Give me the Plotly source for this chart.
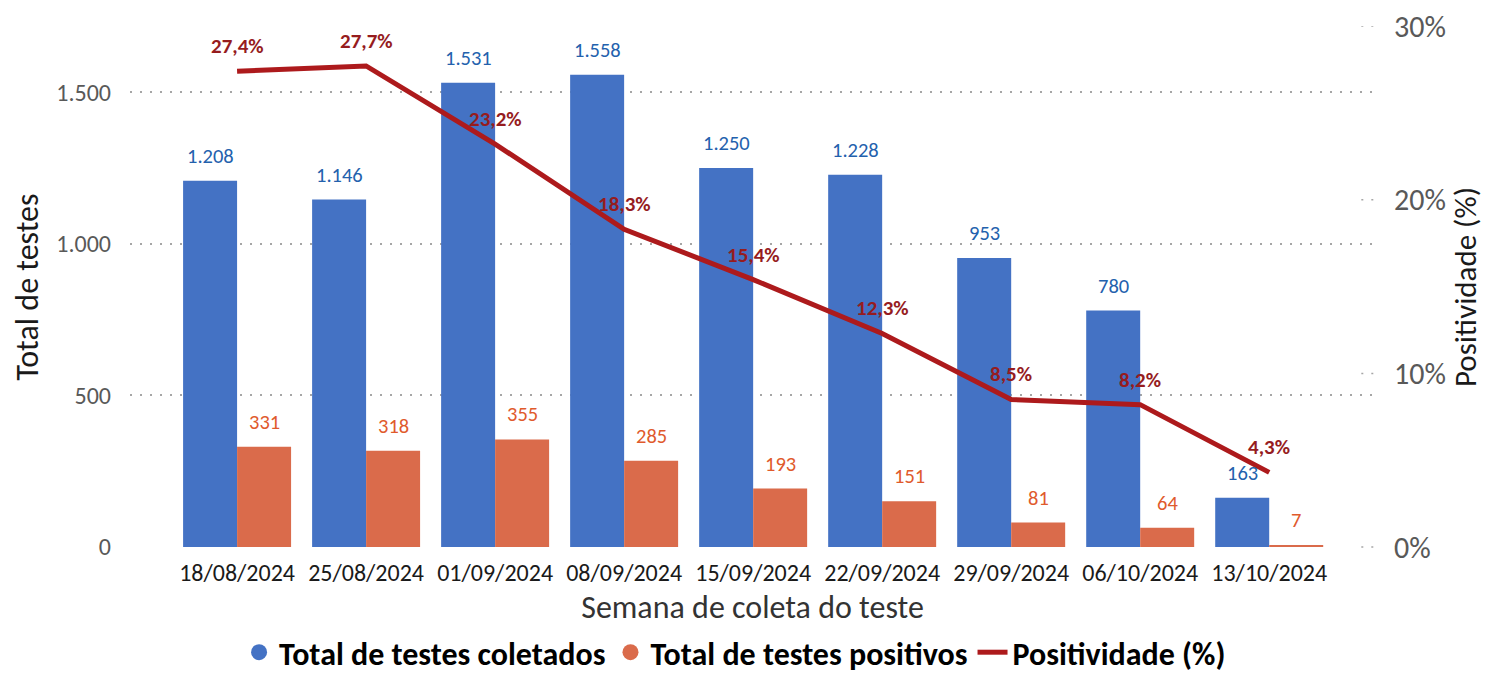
import plotly.graph_objects as go

# dados
semanas = ["18/08/2024", "25/08/2024", "01/09/2024", "08/09/2024", "15/09/2024",
           "22/09/2024", "29/09/2024", "06/10/2024", "13/10/2024"]
total_coletados = [1208, 1146, 1531, 1558, 1250, 1228, 953, 780, 163]
total_positivos = [331, 318, 355, 285, 193, 151, 81, 64, 7]
positividade = [27.4, 27.7, 23.2, 18.3, 15.4, 12.3, 8.5, 8.2, 4.3]
ticks_total = [0, 500, 1000, 1500]
ticks_pct = [0, 0.1, 0.2, 0.3]

AZUL = "#4472C4"
LARANJA = "#DA6B4B"
VERMELHO = "#AD1A1C"
FONTE = "Carlito, Lato, sans-serif"

Y_MAX = 1718.4
Y_MIN = -3
P_MAX = 0.30
P_MIN = Y_MIN / Y_MAX * P_MAX  # mantém o 0% alinhado com o 0


def fmt_milhar(v):
    return f"{v:,}".replace(",", ".")


def fmt_pct(p):
    return f"{p:.1f}%".replace(".", ",")


fig = go.Figure()

fig.add_trace(go.Bar(x=semanas, y=total_coletados, name="Total de testes coletados",
                     marker_color=AZUL, marker_line_width=0, showlegend=False))
fig.add_trace(go.Bar(x=semanas, y=total_positivos, name="Total de testes positivos",
                     marker_color=LARANJA, marker_line_width=0, showlegend=False))
fig.add_trace(go.Scatter(x=semanas, y=[p / 100 for p in positividade], yaxis="y2",
                         mode="lines", line=dict(color=VERMELHO, width=5),
                         showlegend=False))

# itens da legenda (círculos como no Excel)
fig.add_trace(go.Scatter(x=[None], y=[None], mode="markers", name="Total de testes coletados",
                         marker=dict(symbol="circle", size=20, color=AZUL)))
fig.add_trace(go.Scatter(x=[None], y=[None], mode="markers", name="Total de testes positivos",
                         marker=dict(symbol="circle", size=20, color=LARANJA)))
fig.add_trace(go.Scatter(x=[None], y=[None], mode="lines", name="Positividade (%)",
                         line=dict(color=VERMELHO, width=5)))

# rótulos de dados
anot = []
for i, v in enumerate(total_coletados):
    anot.append(dict(x=i, y=v, xref="x", yref="y", text=fmt_milhar(v), showarrow=False,
                     xshift=-27, yshift=25, font=dict(size=20.5, color="#2361AD", family=FONTE)))
for i, v in enumerate(total_positivos):
    anot.append(dict(x=i, y=v, xref="x", yref="y", text=str(v), showarrow=False,
                     xshift=27, yshift=25, font=dict(size=20.5, color="#E05A2C", family=FONTE)))
for i, p in enumerate(positividade):
    anot.append(dict(x=i, y=p / 100, xref="x", yref="y2", text=f"<b>{fmt_pct(p)}</b>",
                     showarrow=False, yshift=25,
                     font=dict(size=21, color="#961C1E", family=FONTE)))

# pontinhos curtos do eixo secundário
formas = []
for t in ticks_pct:
    formas.append(dict(type="line", xref="paper", yref="y2", x0=0.989, x1=1.0, y0=t, y1=t,
                       line=dict(color="#A6A6A6", width=1.5, dash="2px,8px")))

# a página html desloca o gráfico 8px (margem do body), por isso 1489x667
fig.update_layout(
    width=1489, height=667,
    margin=dict(l=122, r=122, t=18, b=127, autoexpand=False),
    paper_bgcolor="white", plot_bgcolor="white",
    separators=",.",
    font=dict(family=FONTE, color="#595959"),
    barmode="group", bargap=0.163, bargroupgap=0,
    annotations=anot,
    shapes=formas,
    xaxis=dict(
        type="category", range=[-0.83, 8.82], automargin=False,
        showgrid=False, showline=False, ticks="",
        tickfont=dict(size=24, color="#1A1A1A"), ticklabelstandoff=8,
        title=dict(text="Semana de coleta do teste", font=dict(size=32, color="#333333"),
                   standoff=9),
    ),
    yaxis=dict(
        range=[Y_MIN, Y_MAX], tickvals=ticks_total, tickformat=",d",
        automargin=False,
        showgrid=True, gridcolor="#A6A6A6", griddash="2px,8px", gridwidth=1.5,
        zeroline=False, showline=False, ticks="",
        tickfont=dict(size=24, color="#595959"), ticklabelstandoff=18,
        title=dict(text="Total de testes", font=dict(size=32, color="#1A1A1A"), standoff=18),
    ),
    yaxis2=dict(
        overlaying="y", side="right", range=[P_MIN, P_MAX], automargin=False,
        tickvals=ticks_pct, tickformat=".0%", ticklabeloverflow="allow",
        showgrid=False, zeroline=False, showline=False, ticks="",
        tickfont=dict(size=30, color="#595959"), ticklabelstandoff=18,
        title=dict(text="Positividade (%)", font=dict(size=31, color="#1A1A1A"), standoff=0),
    ),
    legend=dict(
        orientation="h", x=0.486, xanchor="center", y=-0.2, yanchor="middle",
        font=dict(size=32, color="#000000", family=FONTE, weight="bold"),
        itemwidth=30, traceorder="normal",
    ),
)

fig.write_html("out.html")
